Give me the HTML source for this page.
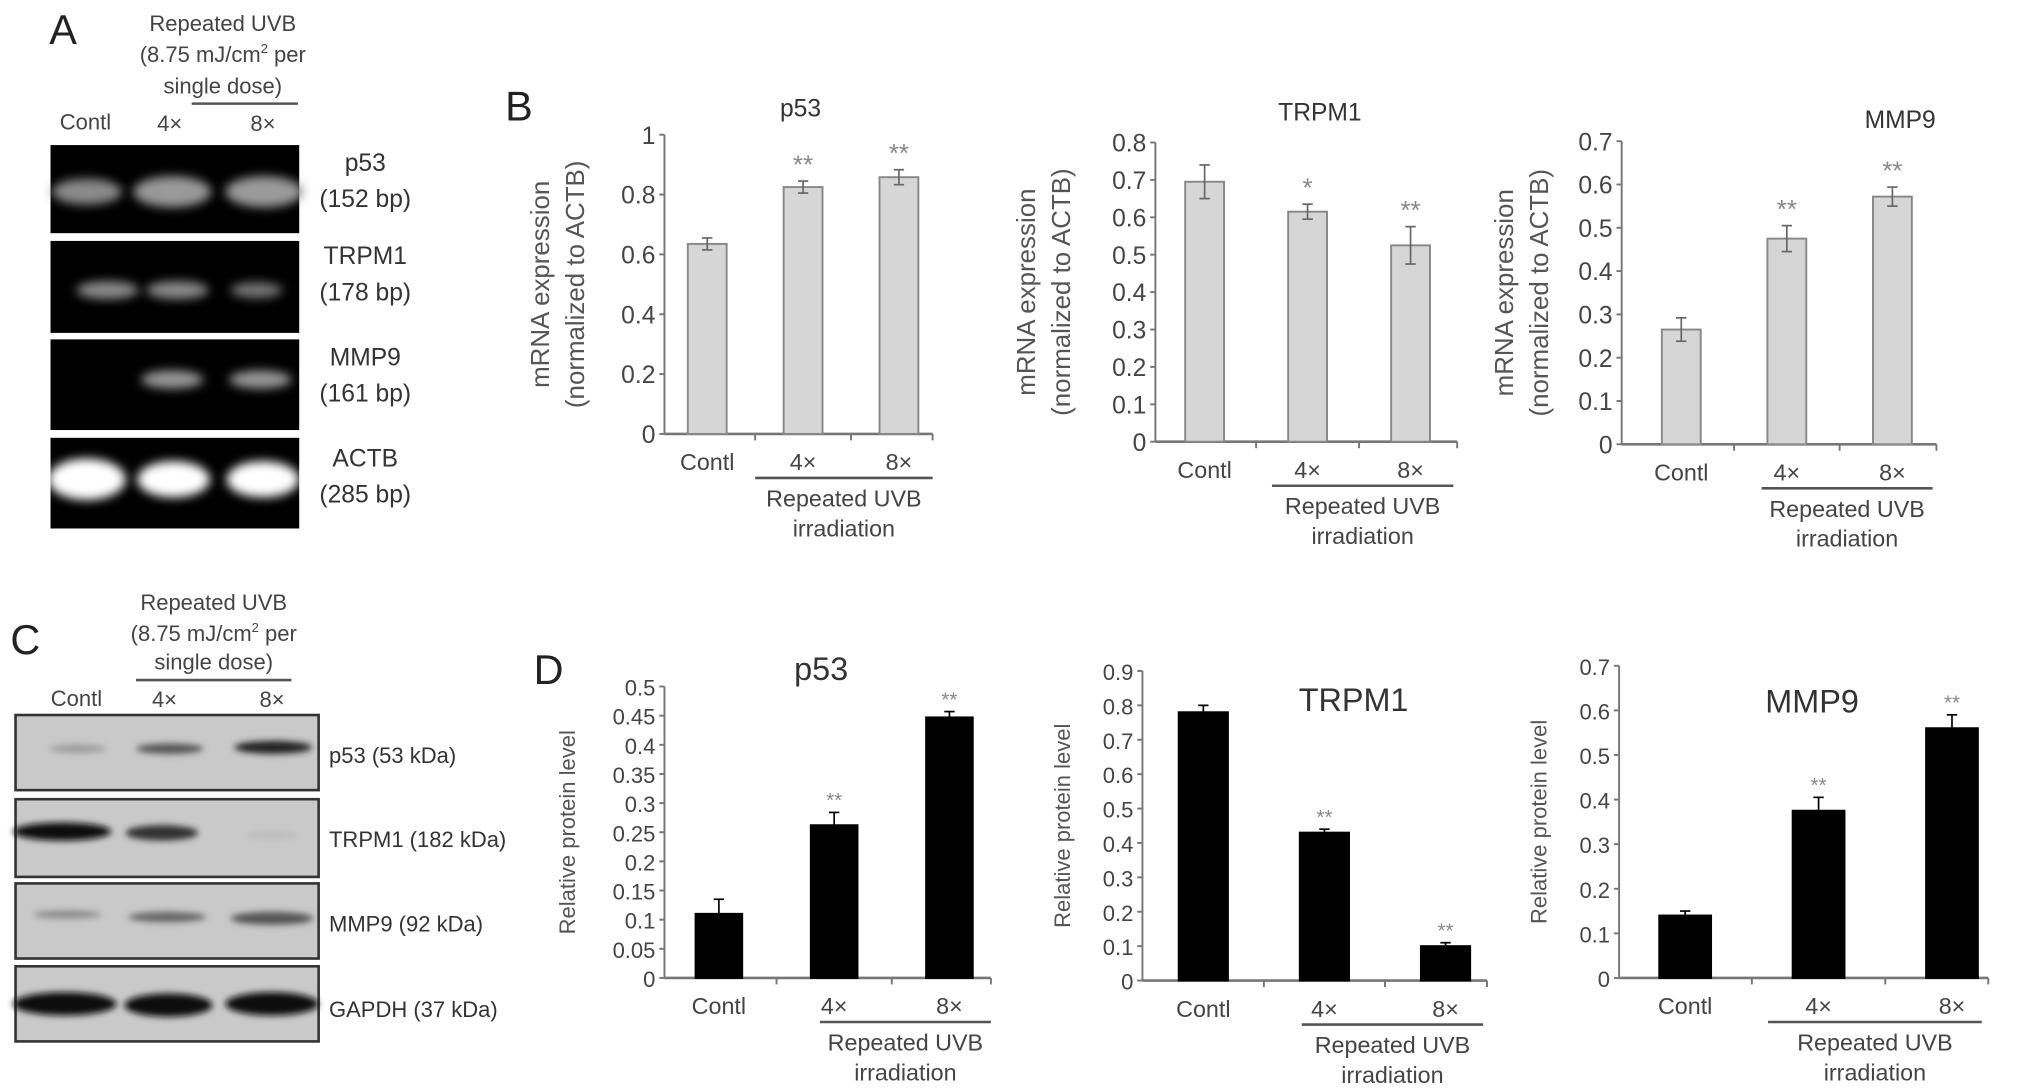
<!DOCTYPE html>
<html><head><meta charset="utf-8"><style>
html,body{margin:0;padding:0;background:#fff;}
svg{display:block;font-family:"Liberation Sans",sans-serif;}
</style></head><body>
<svg id="fig" width="2031" height="1090" viewBox="0 0 1568 841.5" preserveAspectRatio="none" xmlns="http://www.w3.org/2000/svg">
<defs>
<filter id="blur3" x="-30%" y="-80%" width="160%" height="260%"><feGaussianBlur stdDeviation="4"/></filter>
<filter id="blur2" x="-30%" y="-80%" width="160%" height="260%"><feGaussianBlur stdDeviation="2.5"/></filter>
</defs>
<g id="static" fill="#333">
<!-- Panel A -->
<text x="38" y="34" font-size="32" fill="#222">A</text>
<g font-size="17" text-anchor="middle" fill="#444">
<text x="172" y="24">Repeated UVB</text>
<text x="172" y="48">(8.75 mJ/cm<tspan font-size="10" dy="-7">2</tspan><tspan dy="7"> per</tspan></text>
<text x="172" y="72">single dose)</text>
<line x1="148" y1="80" x2="230" y2="80" stroke="#555" stroke-width="2"/>
<text x="66" y="100">Contl</text><text x="131" y="101">4×</text><text x="203" y="101">8×</text>
</g>
<g>
<rect x="39" y="112" width="192" height="68" fill="#000"/>
<rect x="39" y="186" width="192" height="71" fill="#000"/>
<rect x="39" y="262" width="192" height="70" fill="#000"/>
<rect x="39" y="338" width="192" height="70" fill="#000"/>
<g fill="#8a8a8a" filter="url(#blur3)">
<ellipse cx="67" cy="148" rx="27" ry="10"/><ellipse cx="133" cy="148" rx="30" ry="12" fill="#999"/><ellipse cx="204" cy="148" rx="30" ry="12" fill="#9a9a9a"/>
<ellipse cx="83" cy="224" rx="24" ry="7"/><ellipse cx="137" cy="224" rx="24" ry="7"/><ellipse cx="198" cy="224" rx="20" ry="6" fill="#777"/>
<ellipse cx="133" cy="293" rx="24" ry="7" fill="#999"/><ellipse cx="201" cy="293" rx="24" ry="7" fill="#999"/>
<ellipse cx="67" cy="370" rx="30" ry="16" fill="#fff"/><ellipse cx="134" cy="370" rx="28" ry="14" fill="#fff"/><ellipse cx="203" cy="370" rx="28" ry="14" fill="#fff"/>
</g>
</g>
<g font-size="19" text-anchor="middle" fill="#333">
<text x="282" y="132">p53</text><text x="282" y="160">(152 bp)</text>
<text x="282" y="204">TRPM1</text><text x="282" y="232">(178 bp)</text>
<text x="282" y="282">MMP9</text><text x="282" y="310">(161 bp)</text>
<text x="282" y="360">ACTB</text><text x="282" y="388">(285 bp)</text>
</g>
<text x="390" y="93" font-size="32" fill="#222">B</text>
<!-- Panel C -->
<text x="8" y="505" font-size="32" fill="#222">C</text>
<g font-size="17" text-anchor="middle" fill="#444">
<text x="165" y="471">Repeated UVB</text>
<text x="165" y="495">(8.75 mJ/cm<tspan font-size="10" dy="-7">2</tspan><tspan dy="7"> per</tspan></text>
<text x="165" y="517">single dose)</text>
<line x1="105" y1="525" x2="225" y2="525" stroke="#555" stroke-width="2"/>
<text x="59" y="545">Contl</text><text x="127" y="546">4×</text><text x="210" y="546">8×</text>
</g>
<g stroke="#333" stroke-width="2" fill="#c9c9c9">
<rect x="12" y="552" width="234" height="58"/>
<rect x="12" y="617" width="234" height="60"/>
<rect x="12" y="682" width="234" height="58"/>
<rect x="12" y="746" width="234" height="58"/>
<g stroke="none" filter="url(#blur2)">
<ellipse cx="60" cy="578" rx="22" ry="3" fill="#999"/><ellipse cx="131" cy="578" rx="26" ry="4" fill="#555"/><ellipse cx="211" cy="577" rx="30" ry="5" fill="#222"/>
<ellipse cx="48" cy="642" rx="38" ry="7" fill="#111"/><ellipse cx="125" cy="643" rx="28" ry="6" fill="#333"/><ellipse cx="210" cy="645" rx="20" ry="3" fill="#bbb"/>
<ellipse cx="52" cy="706" rx="26" ry="3" fill="#888"/><ellipse cx="129" cy="708" rx="30" ry="4" fill="#666"/><ellipse cx="210" cy="709" rx="32" ry="5" fill="#555"/>
<ellipse cx="50" cy="775" rx="40" ry="9" fill="#111"/><ellipse cx="130" cy="776" rx="34" ry="9" fill="#111"/><ellipse cx="210" cy="775" rx="36" ry="9" fill="#111"/>
</g>
</g>
<g font-size="17" fill="#333">
<text x="254" y="589">p53 (53 kDa)</text>
<text x="254" y="654">TRPM1 (182 kDa)</text>
<text x="254" y="719">MMP9 (92 kDa)</text>
<text x="254" y="785">GAPDH (37 kDa)</text>
</g>
<text x="412" y="528" font-size="32" fill="#222">D</text>
</g>
<g id="charts"></g>
</svg>
<script>
const categories = ["Contl", "4×", "8×"];
const bP53 = [0.635, 0.825, 0.858];
const bP53Err = [0.02, 0.02, 0.025];
const bTRPM1 = [0.695, 0.615, 0.525];
const bTRPM1Err = [0.045, 0.02, 0.05];
const bMMP9 = [0.265, 0.475, 0.572];
const bMMP9Err = [0.027, 0.03, 0.022];
const dP53 = [0.11, 0.262, 0.447];
const dP53Err = [0.025, 0.022, 0.01];
const dTRPM1 = [0.78, 0.43, 0.1];
const dTRPM1Err = [0.02, 0.01, 0.01];
const dMMP9 = [0.14, 0.375, 0.56];
const dMMP9Err = [0.01, 0.03, 0.03];
const bP53Ticks = ["0", "0.2", "0.4", "0.6", "0.8", "1"];
const bTRPM1Ticks = ["0", "0.1", "0.2", "0.3", "0.4", "0.5", "0.6", "0.7", "0.8"];
const bMMP9Ticks = ["0", "0.1", "0.2", "0.3", "0.4", "0.5", "0.6", "0.7"];
const dP53Ticks = ["0", "0.05", "0.1", "0.15", "0.2", "0.25", "0.3", "0.35", "0.4", "0.45", "0.5"];
const dTRPM1Ticks = ["0", "0.1", "0.2", "0.3", "0.4", "0.5", "0.6", "0.7", "0.8", "0.9"];
const dMMP9Ticks = ["0", "0.1", "0.2", "0.3", "0.4", "0.5", "0.6", "0.7"];
const bP53Stars = ["", "**", "**"];
const bTRPM1Stars = ["", "*", "**"];
const bMMP9Stars = ["", "**", "**"];
const dStars = ["", "**", "**"];

const NS = "http://www.w3.org/2000/svg";
const root = document.getElementById("charts");
function mk(tag, attrs, parent, text) {
  const e = document.createElementNS(NS, tag);
  for (const k in attrs) e.setAttribute(k, attrs[k]);
  if (text !== undefined) e.textContent = text;
  parent.appendChild(e);
  return e;
}
function chart(c) {
  const g = mk("g", {}, root);
  
  
  const ticks = c.ticks.map(Number);
  const vmax = ticks[ticks.length - 1];
  const y = v => c.y0 - (v / vmax) * (c.y0 - c.y1);
  const x = i => c.cx[0] + i * c.step;
  const axisColor = "#777";
  // y-axis
  const ya = mk("line", {x1: c.ax, y1: c.y1, x2: c.ax, y2: c.y0, stroke: axisColor, "stroke-width": 1.5}, g);
  
  
  const xa = mk("line", {x1: c.ax, y1: c.y0, x2: c.xend, y2: c.y0, stroke: axisColor, "stroke-width": 2}, g);
  
  
  c.ticks.forEach((t, i) => {
    const yy = y(ticks[i]);
    mk("line", {x1: c.ax - 4, y1: yy, x2: c.ax, y2: yy, stroke: axisColor, "stroke-width": 1.5}, g);
    const tl = mk("text", {x: c.ax - 7, y: yy + 7, "font-size": c.tfs, "text-anchor": "end", fill: "#444"}, g, t);
    
    
  });
  // category separators
  for (let i = 1; i < categories.length; i++) {
    const sx = (x(i - 1) + x(i)) / 2;
    mk("line", {x1: sx, y1: c.y0, x2: sx, y2: c.y0 + 5, stroke: axisColor, "stroke-width": 1.5}, g);
  }
  mk("line", {x1: c.xend, y1: c.y0, x2: c.xend, y2: c.y0 + 5, stroke: axisColor, "stroke-width": 1.5}, g);
  categories.forEach((cat, i) => {
    const v = c.vals[i], e = c.errs[i];
    const bar = mk("rect", {x: x(i) - c.bw / 2, y: y(v), width: c.bw, height: c.y0 - y(v), fill: c.fill, stroke: c.stroke, "stroke-width": 1.5}, g);
    
    
    const ec = c.fill === "#000" ? "#000" : "#666";
    const ylo = c.fill === "#000" ? y(v) : y(v - e);
    mk("line", {x1: x(i), y1: y(v + e), x2: x(i), y2: ylo, stroke: ec, "stroke-width": 1.3}, g);
    mk("line", {x1: x(i) - 4, y1: y(v + e), x2: x(i) + 4, y2: y(v + e), stroke: ec, "stroke-width": 1.3}, g);
    if (c.fill !== "#000") mk("line", {x1: x(i) - 4, y1: y(v - e), x2: x(i) + 4, y2: y(v - e), stroke: ec, "stroke-width": 1.3}, g);
    if (c.stars[i]) {
      const st = mk("text", {x: x(i), y: y(v + e) + c.starDy, "font-size": c.starFs, "text-anchor": "middle", fill: "#888"}, g, c.stars[i]);
      
      
    }
    const cl = mk("text", {x: x(i), y: c.y0 + 28, "font-size": 18, "text-anchor": "middle", fill: "#444"}, g, cat);
    
    
  });
  const ul = mk("line", {x1: c.ulx[0], y1: c.y0 + 34, x2: c.ulx[1], y2: c.y0 + 34, stroke: "#555", "stroke-width": 2}, g);
  
  
  const mid = (c.ulx[0] + c.ulx[1]) / 2;
  const gl = mk("text", {x: mid, y: c.y0 + 56, "font-size": 18, "text-anchor": "middle", fill: "#444"}, g, "Repeated UVB");
  
  
  mk("text", {x: mid, y: c.y0 + 79, "font-size": 18, "text-anchor": "middle", fill: "#444"}, g, "irradiation");
  const ti = mk("text", {x: c.title[0], y: c.title[1], "font-size": c.titleFs, "text-anchor": "middle", fill: "#333"}, g, c.titleText);
  
  
  const cy = (c.y0 + c.y1) / 2;
  c.ytitle.forEach((line, k) => {
    const tx = c.ytx + k * 27;
    const yt = mk("text", {x: tx, y: cy, "font-size": c.ytfs, "text-anchor": "middle", fill: "#555", transform: `rotate(-90 ${tx} ${cy})`}, g, line);
    
    
  });
}
const gray = "#d6d6d6", grayS = "#888";
const mrnaTitle = ["mRNA expression", "(normalized to ACTB)"];
chart({name:"chart-b-p53", ticks:bP53Ticks, vals:bP53, errs:bP53Err, stars:bP53Stars, ax:513, y0:335, y1:104, xend:720, cx:[546], step:74, bw:30, fill:gray, stroke:grayS, ulx:[583,720], title:[618,90], titleText:"p53", titleFs:19, ytitle:mrnaTitle, ytx:424, ytfs:20, tfs:19, starDy:-6, starFs:20});
chart({name:"chart-b-trpm1", ticks:bTRPM1Ticks, vals:bTRPM1, errs:bTRPM1Err, stars:bTRPM1Stars, ax:892, y0:341, y1:110, xend:1125, cx:[930], step:79.5, bw:30, fill:gray, stroke:grayS, ulx:[982,1122], title:[1019,93], titleText:"TRPM1", titleFs:19, ytitle:mrnaTitle, ytx:799, ytfs:20, tfs:19, starDy:-6, starFs:20});
chart({name:"chart-b-mmp9", ticks:bMMP9Ticks, vals:bMMP9, errs:bMMP9Err, stars:bMMP9Stars, ax:1252, y0:343, y1:109, xend:1495, cx:[1298], step:81.5, bw:30, fill:gray, stroke:grayS, ulx:[1360,1492], title:[1467,99], titleText:"MMP9", titleFs:19, ytitle:mrnaTitle, ytx:1168, ytfs:20, tfs:19, starDy:-6, starFs:20});
const dTitle = ["Relative protein level"];
chart({name:"chart-d-p53", ticks:dP53Ticks, vals:dP53, errs:dP53Err, stars:dStars, ax:513, y0:755, y1:530, xend:765, cx:[555], step:89, bw:36, fill:"#000", stroke:"#000", ulx:[633,765], title:[634,525], titleText:"p53", titleFs:25, ytitle:dTitle, ytx:444, ytfs:17, tfs:17, starDy:-4, starFs:16});
chart({name:"chart-d-trpm1", ticks:dTRPM1Ticks, vals:dTRPM1, errs:dTRPM1Err, stars:dStars, ax:882, y0:757, y1:518, xend:1148, cx:[929], step:93.5, bw:38, fill:"#000", stroke:"#000", ulx:[1005,1145], title:[1045,549], titleText:"TRPM1", titleFs:25, ytitle:dTitle, ytx:826, ytfs:17, tfs:17, starDy:-4, starFs:16});
chart({name:"chart-d-mmp9", ticks:dMMP9Ticks, vals:dMMP9, errs:dMMP9Err, stars:dStars, ax:1250, y0:755, y1:514, xend:1535, cx:[1301], step:103, bw:40, fill:"#000", stroke:"#000", ulx:[1365,1530], title:[1399,550], titleText:"MMP9", titleFs:25, ytitle:dTitle, ytx:1194, ytfs:17, tfs:17, starDy:-4, starFs:16});
</script>
</body></html>
